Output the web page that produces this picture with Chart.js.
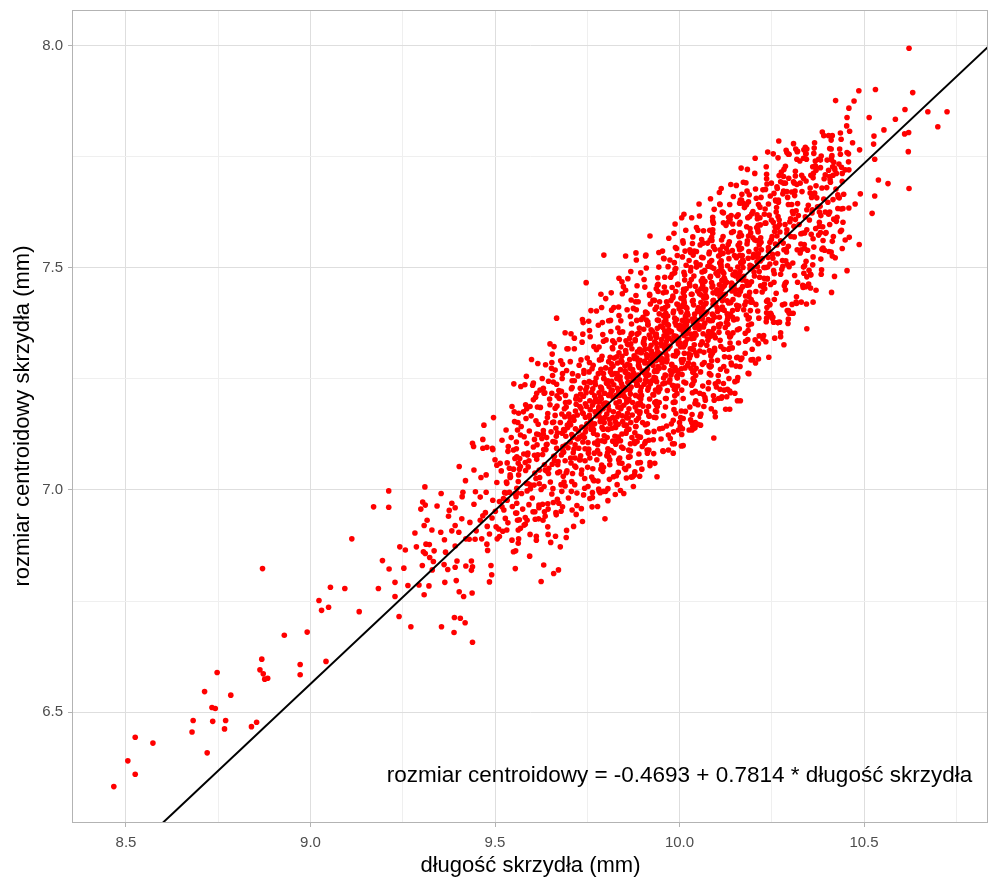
<!DOCTYPE html>
<html>
<head>
<meta charset="utf-8">
<script src="https://cdn.jsdelivr.net/npm/chart.js@4.4.0/dist/chart.umd.min.js"></script>
<style>html,body{margin:0;padding:0;background:#fff}canvas{display:block}</style>
</head>
<body>
<canvas id="c" width="1000" height="888" style="width:1000px;height:888px"></canvas>
<script>
// ---- data (wing length [mm], centroid size [mm]) ----
const leftTail = [[8.467,6.332],[8.505,6.390],[8.525,6.360],[8.525,6.443],[8.573,6.430],[8.679,6.455],[8.682,6.481],[8.720,6.408],[8.713,6.546],[8.733,6.510],[8.742,6.508],[8.735,6.479],[8.747,6.589],[8.770,6.481],[8.767,6.462],[8.784,6.538],[8.840,6.467],[8.854,6.477],[8.870,6.823],[8.868,6.619],[8.863,6.595],[8.872,6.586],[8.876,6.574],[8.884,6.576],[8.929,6.673],[8.972,6.607],[8.972,6.584],[8.991,6.680],[9.042,6.614],[9.023,6.751],[9.030,6.729],[9.049,6.736],[9.054,6.781],[9.093,6.778],[9.112,6.890]];

const lowerShoulder = [[9.132,6.726],[9.171,6.962],[9.212,6.998],[9.212,6.961],[9.184,6.778],[9.195,6.841],[9.213,6.822],[9.229,6.792],[9.229,6.760],[9.240,6.715],[9.242,6.872],[9.257,6.865],[9.253,6.824],[9.264,6.785],[9.272,6.692],[9.283,6.903],[9.287,6.872],[9.294,6.786],[9.303,6.830],[9.308,6.764],[9.321,6.784],[9.310,7.007],[9.304,6.973],[9.299,6.957],[9.311,6.966],[9.316,6.932],[9.308,6.920],[9.313,6.878],[9.322,6.877],[9.306,6.861],[9.311,6.857],[9.323,6.848],[9.335,6.863],[9.329,6.910],[9.333,6.839],[9.330,6.820],[9.343,6.964],[9.354,6.992],[9.353,6.905],[9.363,6.888],[9.366,6.860],[9.362,6.832],[9.372,6.821],[9.364,6.792],[9.355,6.692],[9.374,6.941],[9.376,6.954],[9.383,6.970],[9.392,6.960],[9.383,6.908],[9.392,6.920],[9.392,6.874],[9.397,6.840],[9.392,6.826],[9.395,6.796],[9.390,6.713],[9.389,6.679],[9.403,6.771],[9.406,6.711],[9.415,6.760],[9.419,6.701],[9.403,7.053],[9.420,7.021],[9.410,6.935],[9.413,6.995],[9.411,6.985],[9.402,6.905],[9.421,6.890],[9.421,6.829],[9.432,6.927],[9.430,6.889],[9.436,6.840],[9.439,6.827],[9.436,6.819],[9.438,6.768],[9.439,6.657],[9.443,7.045],[9.447,6.996],[9.443,6.968],[9.449,6.908],[9.446,6.889],[9.460,6.932],[9.460,6.984],[9.464,6.890],[9.467,6.942],[9.476,6.995],[9.476,7.034],[9.462,7.028],[9.474,6.949],[9.479,6.918],[9.485,6.901],[9.478,6.878],[9.480,6.864],[9.489,6.830],[9.491,6.809],[9.485,6.793],[9.494,6.977],[9.501,6.952],[9.492,6.937],[9.505,7.017],[9.512,6.974],[9.503,6.917],[9.506,6.890],
[9.442,7.098],[9.439,7.105],[9.467,7.094],[9.478,7.096],[9.494,7.091],[9.500,7.068],[9.505,7.056],[9.514,7.060],[9.539,7.049],[9.541,7.034],[9.536,7.098],[9.550,7.090],[9.559,7.075],[9.563,7.060],[9.532,7.015],[9.542,7.030],[9.557,6.985],[9.559,6.970],[9.554,6.992],[9.563,7.019],[9.559,6.948],[9.561,6.932],[9.563,6.910],[9.563,6.880],[9.550,6.861],[9.519,6.962],[9.524,6.955],[9.530,6.993],[9.533,6.977],[9.535,6.926],[9.532,6.910],[9.512,6.895],[9.510,6.912]];

const upperLeftEdge = [[9.920,7.572],[9.795,7.529],[9.854,7.527],[9.882,7.534],[9.909,7.529],[9.747,7.467],[9.836,7.477],[9.868,7.492],[9.848,7.458],[9.787,7.441],[9.800,7.431],[9.667,7.387],[9.737,7.384],[9.775,7.403],[9.808,7.381],[9.822,7.411],[9.690,7.354],[9.756,7.359],[9.780,7.371],[9.715,7.342],[9.649,7.329],[9.599,7.294],[9.655,7.306],[9.698,7.318],[9.663,7.270],[9.585,7.256],[9.551,7.239],[9.546,7.188],[9.496,7.163],[9.470,7.146],[9.467,7.114],[9.493,7.094],
[9.553,7.154],[9.561,7.135],[9.577,7.176],[9.584,7.161],[9.595,7.188],[9.604,7.203],[9.613,7.218],[9.622,7.225],[9.631,7.229],[9.654,7.218],[9.676,7.221],
[9.957,7.522],[9.974,7.518],[9.992,7.544],[10.010,7.556],[10.028,7.541],[10.046,7.537],[10.064,7.556],[10.083,7.563],[10.092,7.548],[10.110,7.541],[10.012,7.621],[9.988,7.599],[10.050,7.585],[10.090,7.606],[10.090,7.586],[10.133,7.604],[10.108,7.670],[10.110,7.643],[10.116,7.626]];

const upperRightEdge = [[10.622,7.995],[10.531,7.902],[10.486,7.899],[10.632,7.895],[10.423,7.877],[10.473,7.876],[10.459,7.860],[10.611,7.857],[10.673,7.852],[10.725,7.852],[10.454,7.839],[10.514,7.839],[10.585,7.835],[10.453,7.820],[10.700,7.818],[10.554,7.811],[10.527,7.797],[10.610,7.802],[10.621,7.805],[10.411,7.788],[10.438,7.790],[10.469,7.782],[10.526,7.779],[10.407,7.769],[10.365,7.770],[10.345,7.768],[10.343,7.757],[10.320,7.763],[10.297,7.756],[10.488,7.766],[10.620,7.762],[10.436,7.756],[10.458,7.757],[10.529,7.745],[10.384,7.752],[10.377,7.745],[10.400,7.743],[10.412,7.750],[10.368,7.730],[10.370,7.720],[10.382,7.726],[10.415,7.728],[10.421,7.721],[10.425,7.713],[10.439,7.727],[10.441,7.713],[10.459,7.721],[10.392,7.701],[10.407,7.706],[10.539,7.698],[10.565,7.690],[10.622,7.679],[10.490,7.667],[10.529,7.662],[10.476,7.644],[10.459,7.635],[10.443,7.634],[10.522,7.623],[10.430,7.660],[10.407,7.626],[10.404,7.621],[10.418,7.610],[10.425,7.605],[10.379,7.626],[10.366,7.667],[10.396,7.578],[10.382,7.580],[10.369,7.589],[10.460,7.569],[10.449,7.563],[10.487,7.553],[10.417,7.571],[10.414,7.560],[10.389,7.562],[10.362,7.566],[10.405,7.537],[10.414,7.527],[10.422,7.523],[10.383,7.520],[10.362,7.525],[10.454,7.494],[10.355,7.486],[10.345,7.480],
[10.173,7.693],[10.183,7.673],[10.236,7.701],[10.267,7.748],[10.295,7.756],[10.319,7.762],[10.342,7.757],[10.344,7.745],[10.155,7.616],[10.163,7.646],[10.172,7.646],[10.181,7.642],[10.168,7.653],[10.208,7.657],[10.199,7.627],[10.190,7.616],[10.249,7.691],[10.256,7.668],[10.260,7.653],[10.274,7.694],[10.282,7.706],[10.287,7.691],[10.291,7.672],[10.309,7.694],[10.327,7.691],[10.336,7.702]];

const lowerRightEdge = [[9.625,6.794],[9.632,6.831],[9.659,6.812],[9.672,6.820],[9.677,6.872],[9.651,6.882],[9.693,6.893],[9.612,6.896],[9.643,6.917],[9.798,6.935],[9.582,6.923],[9.587,6.932],[9.569,6.914],[9.564,6.890],[9.636,6.941],[9.634,6.951],[9.665,6.949],[9.608,6.951],[9.582,6.938],[9.619,6.960],[9.709,6.955],[9.722,6.965],[9.683,6.962],[9.673,6.970],[9.764,6.994],[9.781,7.002],[9.794,6.997],[9.752,7.008],[9.826,6.990],[9.849,6.992],[9.875,7.008],[9.873,7.030],[9.879,7.041],[9.854,7.046],[9.939,7.030],[10.093,7.117],[9.970,7.090],[9.983,7.083],[10.010,7.100],[9.917,7.090],[9.906,7.105],[9.885,7.109],[9.862,7.090],[9.835,7.068],[9.844,7.060],[9.808,7.075],[9.789,7.056],[10.034,7.135],[10.050,7.148],[10.057,7.146],[10.043,7.152],[9.975,7.116],[9.997,7.135],[10.002,7.143],[10.030,7.158],[10.097,7.165],[10.128,7.210],[10.136,7.182],[10.165,7.201],[10.097,7.239],[10.130,7.227],[10.119,7.240],
[10.295,7.385],[10.301,7.398],[10.292,7.404],[10.271,7.378],[10.253,7.389],[10.247,7.398],[10.236,7.387],[10.226,7.340],[10.214,7.330],[10.197,7.317],[10.199,7.294],[10.169,7.297],[10.157,7.299],[10.164,7.278],[10.150,7.244],[10.150,7.218],[10.157,7.201],[10.125,7.182],[10.121,7.225],[10.115,7.210],[10.092,7.212],[10.069,7.208],[10.066,7.188],[10.042,7.195],[10.039,7.139],[10.026,7.135],[10.033,7.152],[10.010,7.161],[10.005,7.099],[10.141,7.282],[10.120,7.278],[10.122,7.300],
[10.412,7.445],[10.362,7.423],[10.345,7.363],[10.330,7.423],[10.283,7.327],[10.274,7.354],[10.274,7.345],[10.295,7.404],[10.297,7.398],[10.317,7.420],[10.317,7.435],[10.342,7.458],[10.350,7.464],[10.356,7.484],[10.351,7.495],[10.267,7.377],[10.245,7.417],[10.249,7.394],[10.251,7.387]];

const coreLow = [[9.517,7.043],[9.523,6.981],[9.531,7.018],[9.528,6.936],[9.535,7.087],[9.519,7.112],[9.526,6.994],[9.533,7.061],[9.521,6.907],[9.530,7.135],
[9.541,7.028],[9.547,6.963],[9.554,7.071],[9.559,7.004],[9.544,7.118],[9.556,6.948],[9.550,7.047],[9.562,7.152],[9.539,6.995],[9.546,6.887],[9.558,7.093],[9.552,7.176],
[9.566,7.047],[9.572,6.992],[9.578,7.081],[9.585,7.015],[9.569,7.124],[9.575,6.957],[9.582,7.062],[9.571,7.143],[9.587,6.998],[9.567,7.071],[9.579,6.921],[9.583,7.192],[9.564,7.034],[9.586,7.105],
[9.592,7.066],[9.597,7.011],[9.604,7.097],[9.608,7.038],[9.593,7.133],[9.601,6.982],[9.607,7.114],[9.598,7.167],[9.611,7.026],[9.589,7.083],[9.603,6.951],[9.610,7.209],[9.590,7.052],[9.613,7.126],[9.596,7.003],[9.602,7.236],
[9.616,7.079],[9.621,7.028],[9.627,7.116],[9.634,7.057],[9.617,7.148],[9.625,7.001],[9.631,7.134],[9.623,7.186],[9.636,7.045],[9.614,7.102],[9.629,6.968],[9.633,7.218],[9.613,7.069],[9.638,7.152],[9.620,7.014],[9.628,7.251],[9.632,7.091],[9.618,6.935],
[9.641,7.103],[9.646,7.049],[9.652,7.131],[9.659,7.076],[9.643,7.172],[9.650,7.018],[9.656,7.152],[9.648,7.205],[9.661,7.066],[9.640,7.118],[9.654,6.991],[9.658,7.243],[9.638,7.091],[9.663,7.168],[9.645,7.037],[9.653,7.274],[9.657,7.109],[9.644,6.957],[9.649,7.192],[9.655,7.058],
[9.666,7.121],[9.671,7.064],[9.677,7.152],[9.684,7.098],[9.668,7.189],[9.675,7.041],[9.681,7.171],[9.673,7.224],[9.686,7.085],[9.665,7.139],[9.679,7.012],[9.683,7.262],[9.663,7.108],[9.688,7.183],[9.670,7.057],[9.678,7.291],[9.682,7.128],[9.669,6.979],[9.674,7.206],[9.680,7.079],[9.685,7.031],[9.667,7.238],
[9.689,7.134],[9.693,7.187],[9.698,7.095],[9.702,7.152],[9.706,7.061],[9.711,7.119],[9.691,7.213],[9.695,7.043],[9.700,7.171],[9.704,7.108],[9.709,7.246],[9.712,7.084],[9.690,7.009],[9.697,7.141],[9.701,7.198],[9.705,7.072],[9.708,7.125],[9.694,7.269],[9.699,6.982],[9.703,7.163],[9.710,7.037],[9.692,7.101],[9.707,7.228],[9.696,7.146],
[9.714,7.157],[9.717,7.102],[9.721,7.211],[9.726,7.133],[9.729,7.068],[9.733,7.184],[9.736,7.121],[9.715,7.246],[9.719,7.051],[9.723,7.169],[9.727,7.094],[9.731,7.229],[9.735,7.142],[9.716,7.012],[9.720,7.193],[9.724,7.115],[9.728,7.281],[9.732,7.077],[9.737,7.174],[9.718,7.138],[9.722,6.993],[9.730,7.203],[9.734,7.036],[9.713,7.165],[9.725,7.257],[9.738,7.108],
[9.739,7.172],[9.742,7.118],[9.746,7.226],[9.749,7.149],[9.753,7.083],[9.757,7.201],[9.760,7.137],[9.741,7.263],[9.744,7.066],[9.748,7.188],[9.752,7.107],[9.755,7.244],[9.759,7.158],[9.762,7.029],[9.740,7.211],[9.745,7.131],[9.750,7.297],[9.754,7.092],[9.758,7.181],[9.761,7.143],[9.743,7.004],[9.747,7.219],[9.751,7.051],[9.756,7.168],[9.763,7.273],[9.738,7.124],[9.749,7.232],[9.757,6.981],[9.745,7.194],
[9.764,7.191],[9.767,7.136],[9.771,7.243],[9.774,7.167],[9.778,7.102],[9.782,7.219],[9.785,7.154],[9.766,7.281],[9.769,7.083],[9.773,7.205],[9.777,7.124],[9.780,7.262],[9.784,7.177],[9.787,7.047],[9.765,7.228],[9.770,7.149],[9.775,7.316],[9.779,7.111],[9.783,7.199],[9.786,7.162],[9.768,7.021],[9.772,7.237],[9.776,7.068],[9.781,7.186],[9.788,7.294],[9.763,7.141],[9.774,7.252],[9.782,6.998],[9.770,7.212],[9.778,7.089],[9.786,7.232],
[9.789,7.227],[9.791,7.158],[9.794,7.262],[9.797,7.109],[9.799,7.196],[9.802,7.241],[9.805,7.137],[9.808,7.214],[9.811,7.068],[9.790,7.301],[9.793,7.183],[9.796,7.122],[9.800,7.275],[9.803,7.171],[9.806,7.093],[9.809,7.233],[9.812,7.149],[9.788,7.205],[9.792,7.042],[9.795,7.251],[9.798,7.164],[9.801,7.338],[9.804,7.118],[9.807,7.189],[9.810,7.024],[9.813,7.266],[9.790,7.141],[9.797,7.218],[9.803,7.077],[9.808,7.289],[9.794,7.193],[9.800,6.997],[9.806,7.246],
[9.814,7.218],[9.816,7.284],[9.819,7.163],[9.822,7.237],[9.825,7.121],[9.828,7.196],[9.831,7.262],[9.834,7.148],[9.836,7.309],[9.815,7.089],[9.818,7.224],[9.821,7.176],[9.824,7.331],[9.827,7.103],[9.830,7.251],[9.833,7.187],[9.837,7.061],[9.813,7.272],[9.817,7.139],[9.820,7.208],[9.823,7.297],[9.826,7.154],[9.829,7.032],[9.832,7.229],[9.835,7.172],[9.838,7.355],[9.816,7.245],[9.822,7.084],[9.828,7.213],[9.834,7.119],[9.819,7.318],[9.825,7.262],[9.831,7.012],[9.837,7.199],[9.827,7.141],
[9.839,7.247],[9.841,7.183],[9.844,7.301],[9.847,7.219],[9.850,7.146],[9.853,7.268],[9.856,7.205],[9.859,7.328],[9.861,7.162],[9.840,7.111],[9.843,7.239],[9.846,7.356],[9.849,7.191],[9.852,7.279],[9.855,7.128],[9.858,7.254],[9.862,7.074],[9.838,7.213],[9.842,7.292],[9.845,7.167],[9.848,7.232],[9.851,7.049],[9.854,7.314],[9.857,7.198],[9.860,7.261],[9.863,7.137],[9.841,7.381],[9.847,7.094],[9.853,7.226],[9.859,7.173],[9.844,7.288],[9.850,7.211],[9.856,7.027],[9.862,7.243],[9.846,7.154],[9.855,7.336]];

const coreMid = [[9.888,7.291],[9.885,7.178],[9.883,7.244],[9.880,7.336],[9.878,7.109],[9.876,7.263],[9.873,7.197],[9.871,7.318],[9.868,7.152],[9.866,7.274],[9.864,7.226],[9.887,7.061],[9.884,7.382],[9.881,7.213],[9.879,7.129],[9.877,7.302],[9.874,7.248],[9.872,7.169],[9.869,7.351],[9.867,7.088],[9.865,7.281],[9.863,7.204],[9.886,7.237],[9.882,7.143],[9.875,7.409],[9.870,7.259],[9.889,7.192],[9.862,7.327],[9.878,7.034],[9.873,7.271],[9.867,7.216],[9.884,7.298],[9.871,7.118],[9.880,7.187],[9.865,7.342],[9.876,7.256],[9.869,7.232],[9.883,7.157],
[9.891,7.276],[9.905,7.341],[9.897,7.213],[9.912,7.298],[9.889,7.162],[9.901,7.389],[9.908,7.247],[9.894,7.119],[9.910,7.305],[9.899,7.268],[9.887,7.194],[9.903,7.362],[9.896,7.231],[9.913,7.083],[9.892,7.317],[9.906,7.286],[9.900,7.152],[9.888,7.424],[9.909,7.259],[9.895,7.205],[9.902,7.331],[9.911,7.177],[9.893,7.292],[9.898,7.047],[9.907,7.268],[9.890,7.354],[9.904,7.238],[9.912,7.131],[9.896,7.309],[9.901,7.189],[9.889,7.282],[9.908,7.401],[9.894,7.222],[9.910,7.256],[9.899,7.098],[9.905,7.327],[9.892,7.172],[9.903,7.264],[9.897,7.311],
[9.918,7.318],[9.931,7.254],[9.914,7.379],[9.926,7.296],[9.937,7.192],[9.921,7.342],[9.916,7.231],[9.934,7.407],[9.928,7.281],[9.913,7.149],[9.923,7.326],[9.936,7.268],[9.919,7.441],[9.930,7.214],[9.915,7.303],[9.927,7.357],[9.938,7.177],[9.922,7.289],[9.917,7.112],[9.933,7.334],[9.925,7.246],[9.912,7.398],[9.929,7.301],[9.935,7.225],[9.920,7.062],[9.914,7.372],[9.932,7.267],[9.924,7.313],[9.937,7.199],[9.916,7.285],[9.928,7.427],[9.921,7.239],[9.934,7.349],[9.918,7.166],[9.926,7.307],[9.913,7.273],[9.931,7.132],[9.923,7.361],[9.936,7.291],
[9.942,7.301],[9.955,7.366],[9.938,7.244],[9.950,7.329],[9.961,7.411],[9.945,7.274],[9.940,7.188],[9.958,7.347],[9.952,7.296],[9.937,7.453],[9.947,7.228],[9.960,7.318],[9.943,7.382],[9.954,7.139],[9.939,7.267],[9.951,7.339],[9.962,7.206],[9.946,7.424],[9.941,7.311],[9.957,7.252],[9.949,7.369],[9.936,7.163],[9.953,7.286],[9.959,7.394],[9.944,7.232],[9.938,7.344],[9.956,7.087],[9.948,7.307],[9.961,7.259],[9.940,7.461],[9.952,7.325],[9.945,7.197],[9.958,7.378],[9.942,7.278],[9.950,7.115],[9.937,7.351],[9.955,7.239],[9.947,7.294],[9.960,7.408],[9.943,7.221],
[9.966,7.352],[9.979,7.281],[9.963,7.398],[9.974,7.324],[9.986,7.227],[9.970,7.371],[9.964,7.446],[9.983,7.303],[9.977,7.259],[9.962,7.388],[9.972,7.342],[9.985,7.181],[9.968,7.415],[9.980,7.266],[9.964,7.334],[9.976,7.479],[9.987,7.212],[9.971,7.361],[9.966,7.294],[9.982,7.437],[9.974,7.248],[9.961,7.327],[9.978,7.149],[9.984,7.403],[9.969,7.318],[9.963,7.382],[9.981,7.236],[9.973,7.356],[9.986,7.104],[9.965,7.289],[9.977,7.427],[9.970,7.341],[9.983,7.197],[9.967,7.373],[9.975,7.269],[9.962,7.309],[9.980,7.456],[9.972,7.243],[9.985,7.347],[9.968,7.392],
[9.991,7.338],[10.004,7.401],[9.988,7.276],[9.999,7.364],[10.011,7.452],[9.995,7.309],[9.989,7.227],[10.008,7.382],[10.002,7.331],[9.987,7.489],[9.997,7.263],[10.010,7.354],[9.993,7.419],[10.005,7.178],[9.989,7.302],[10.001,7.371],[10.012,7.243],[9.996,7.463],[9.991,7.346],[10.007,7.287],[9.999,7.408],[9.986,7.198],[10.003,7.322],[10.009,7.431],[9.994,7.269],[9.988,7.377],[10.006,7.125],[9.998,7.341],[10.011,7.294],[9.990,7.499],[10.002,7.362],[9.995,7.234],[10.008,7.413],[9.992,7.313],[10.000,7.152],[9.987,7.387],[10.005,7.273],[9.997,7.329],[10.010,7.444],[9.993,7.256],
[10.016,7.391],[10.029,7.318],[10.013,7.436],[10.024,7.362],[10.036,7.265],[10.020,7.409],[10.014,7.484],[10.033,7.341],[10.027,7.297],[10.012,7.426],[10.022,7.381],[10.035,7.219],[10.018,7.453],[10.030,7.304],[10.014,7.372],[10.026,7.517],[10.037,7.251],[10.021,7.399],[10.016,7.332],[10.032,7.474],[10.024,7.286],[10.011,7.365],[10.028,7.187],[10.034,7.441],[10.019,7.356],[10.013,7.421],[10.031,7.274],[10.023,7.394],[10.036,7.143],[10.015,7.327],[10.027,7.465],[10.020,7.379],[10.033,7.236],[10.017,7.412],[10.025,7.307],[10.012,7.348],[10.030,7.493],[10.022,7.281],[10.035,7.385],
[10.041,7.378],[10.054,7.442],[10.038,7.316],[10.049,7.404],[10.061,7.491],[10.045,7.349],[10.039,7.268],[10.058,7.422],[10.052,7.371],[10.037,7.529],[10.047,7.303],[10.060,7.394],[10.043,7.459],[10.055,7.218],[10.039,7.342],[10.051,7.411],[10.062,7.283],[10.046,7.502],[10.041,7.386],[10.057,7.327],[10.049,7.448],[10.036,7.239],[10.053,7.362],[10.059,7.471],[10.044,7.309],[10.038,7.417],[10.056,7.166],[10.048,7.381],[10.061,7.334],[10.040,7.538],[10.052,7.402],[10.045,7.274],[10.058,7.453],[10.042,7.353],[10.050,7.192],[10.037,7.427],[10.055,7.313],[10.047,7.369],
[10.066,7.432],[10.079,7.357],[10.063,7.476],[10.074,7.401],[10.086,7.305],[10.070,7.448],[10.064,7.523],[10.083,7.381],[10.077,7.337],[10.062,7.466],[10.072,7.421],[10.085,7.259],[10.068,7.493],[10.080,7.344],[10.064,7.412],[10.076,7.556],[10.087,7.291],[10.071,7.438],[10.066,7.372],[10.082,7.513],[10.074,7.326],[10.061,7.405],[10.078,7.228],[10.084,7.481],[10.069,7.396],[10.063,7.461],[10.081,7.314],[10.073,7.434],[10.086,7.183],[10.065,7.367],[10.077,7.504],[10.070,7.419],[10.083,7.277],[10.067,7.452],[10.075,7.347],[10.062,7.388],[10.080,7.532],
[10.091,7.418],[10.104,7.483],[10.088,7.356],[10.099,7.444],[10.111,7.531],[10.095,7.389],[10.089,7.308],[10.108,7.462],[10.102,7.411],[10.087,7.569],[10.097,7.343],[10.110,7.434],[10.093,7.499],[10.105,7.258],[10.089,7.382],[10.101,7.451],[10.112,7.323],[10.096,7.542],[10.091,7.426],[10.107,7.367],[10.099,7.488],[10.086,7.279],[10.103,7.402],[10.109,7.511],[10.094,7.349],[10.088,7.457],[10.106,7.206],[10.098,7.421],[10.111,7.374],[10.090,7.578],[10.102,7.442],[10.095,7.314],[10.108,7.493],[10.092,7.393],[10.100,7.232],[10.087,7.467]];

const coreHigh = [[10.116,7.472],[10.129,7.397],[10.113,7.516],[10.124,7.441],[10.136,7.345],[10.120,7.488],[10.114,7.563],[10.133,7.421],[10.127,7.377],[10.112,7.506],[10.122,7.461],[10.135,7.299],[10.118,7.533],[10.130,7.384],[10.114,7.452],[10.126,7.596],[10.137,7.331],[10.121,7.478],[10.116,7.412],[10.132,7.553],[10.124,7.366],[10.111,7.445],[10.128,7.268],[10.134,7.521],[10.119,7.436],[10.113,7.501],[10.131,7.354],[10.123,7.474],[10.136,7.223],[10.115,7.407],[10.127,7.544],[10.120,7.459],[10.133,7.317],[10.117,7.492],
[10.141,7.458],[10.154,7.523],[10.138,7.396],[10.149,7.484],[10.161,7.571],[10.145,7.429],[10.139,7.348],[10.158,7.502],[10.152,7.451],[10.137,7.609],[10.147,7.383],[10.160,7.474],[10.143,7.539],[10.155,7.298],[10.139,7.422],[10.151,7.491],[10.162,7.363],[10.146,7.582],[10.141,7.466],[10.157,7.407],[10.149,7.528],[10.136,7.319],[10.153,7.442],[10.159,7.551],[10.144,7.389],[10.138,7.497],[10.156,7.246],[10.148,7.461],[10.161,7.414],[10.140,7.618],[10.152,7.482],[10.145,7.354],
[10.166,7.512],[10.179,7.437],[10.163,7.556],[10.174,7.481],[10.186,7.385],[10.170,7.528],[10.164,7.603],[10.183,7.461],[10.177,7.417],[10.162,7.546],[10.172,7.501],[10.185,7.339],[10.168,7.573],[10.180,7.424],[10.164,7.492],[10.176,7.636],[10.187,7.371],[10.171,7.518],[10.166,7.452],[10.182,7.593],[10.174,7.406],[10.161,7.485],[10.178,7.308],[10.184,7.561],[10.169,7.476],[10.163,7.541],[10.181,7.394],[10.173,7.514],[10.186,7.263],[10.165,7.447],
[10.191,7.498],[10.204,7.563],[10.188,7.436],[10.199,7.524],[10.211,7.611],[10.195,7.469],[10.189,7.388],[10.208,7.542],[10.202,7.491],[10.187,7.649],[10.197,7.423],[10.210,7.514],[10.193,7.579],[10.205,7.338],[10.189,7.462],[10.201,7.531],[10.212,7.403],[10.196,7.622],[10.191,7.506],[10.207,7.447],[10.199,7.568],[10.186,7.359],[10.203,7.482],[10.209,7.591],[10.194,7.429],[10.188,7.537],[10.206,7.286],[10.198,7.501],
[10.216,7.552],[10.229,7.477],[10.213,7.596],[10.224,7.521],[10.236,7.425],[10.220,7.568],[10.214,7.643],[10.233,7.501],[10.227,7.457],[10.212,7.586],[10.222,7.541],[10.235,7.379],[10.218,7.613],[10.230,7.464],[10.214,7.532],[10.226,7.676],[10.237,7.411],[10.221,7.558],[10.216,7.492],[10.232,7.633],[10.224,7.446],[10.211,7.525],[10.228,7.348],[10.234,7.601],[10.219,7.516],[10.213,7.581],
[10.241,7.538],[10.254,7.603],[10.238,7.476],[10.249,7.564],[10.261,7.651],[10.245,7.509],[10.239,7.428],[10.258,7.582],[10.252,7.531],[10.237,7.689],[10.247,7.463],[10.260,7.554],[10.243,7.619],[10.255,7.378],[10.239,7.502],[10.251,7.571],[10.262,7.443],[10.246,7.662],[10.241,7.546],[10.257,7.487],[10.249,7.608],[10.236,7.399],[10.253,7.522],
[10.266,7.592],[10.279,7.517],[10.263,7.636],[10.274,7.561],[10.286,7.465],[10.270,7.608],[10.264,7.683],[10.283,7.541],[10.277,7.497],[10.262,7.626],[10.272,7.581],[10.285,7.419],[10.268,7.653],[10.280,7.504],[10.264,7.572],[10.276,7.716],[10.287,7.451],[10.271,7.598],[10.266,7.532],[10.282,7.673],[10.274,7.486],
[10.291,7.578],[10.304,7.643],[10.288,7.516],[10.299,7.604],[10.311,7.691],[10.295,7.549],[10.289,7.468],[10.308,7.622],[10.302,7.571],[10.287,7.729],[10.297,7.503],[10.310,7.594],[10.293,7.659],[10.305,7.418],[10.289,7.542],[10.301,7.611],[10.312,7.483],[10.296,7.702],[10.291,7.586],
[10.316,7.629],[10.329,7.554],[10.313,7.673],[10.324,7.598],[10.336,7.502],[10.320,7.645],[10.314,7.718],[10.333,7.578],[10.327,7.534],[10.312,7.663],[10.322,7.618],[10.335,7.456],[10.318,7.688],[10.330,7.541],[10.314,7.609],[10.326,7.741],[10.337,7.488],
[10.341,7.615],[10.354,7.680],[10.338,7.553],[10.349,7.641],[10.361,7.728],[10.345,7.586],[10.339,7.505],[10.358,7.659],[10.352,7.608],[10.337,7.766],[10.347,7.540],[10.360,7.631],[10.343,7.696],[10.355,7.455],[10.339,7.579],
[10.366,7.669],[10.379,7.594],[10.363,7.713],[10.374,7.638],[10.386,7.542],[10.370,7.685],[10.364,7.758],[10.383,7.618],[10.377,7.574],[10.362,7.703],[10.372,7.658],[10.385,7.496],[10.368,7.728],
[10.391,7.655],[10.404,7.720],[10.388,7.593],[10.399,7.681],[10.411,7.768],[10.395,7.626],[10.389,7.545],[10.408,7.699],[10.402,7.648],[10.387,7.806],[10.397,7.580],
[10.416,7.709],[10.429,7.634],[10.413,7.753],[10.424,7.678],[10.436,7.582],[10.420,7.725],[10.414,7.798],[10.433,7.658],[10.427,7.614],[10.412,7.743],
[10.441,7.695],[10.454,7.760],[10.438,7.633],[10.449,7.721],[10.461,7.808],[10.445,7.666],[10.439,7.585],[10.458,7.739]];

const coreFillA = [[9.556,6.863],[9.566,6.933],[9.560,6.993],[9.569,7.053],[9.558,7.108],[9.564,7.173],[9.570,7.233],[9.555,6.823],
[9.583,7.044],[9.592,6.967],[9.579,7.120],[9.595,6.900],[9.586,7.183],[9.590,7.014],[9.581,7.237],[9.594,6.851],[9.588,7.079],
[9.606,7.011],[9.618,7.125],[9.609,6.934],[9.615,7.187],[9.620,7.045],[9.604,7.241],[9.612,6.887],[9.607,7.078],[9.619,6.966],[9.611,7.156],[9.616,7.285],
[9.631,7.126],[9.643,6.969],[9.635,7.219],[9.640,7.043],[9.629,7.080],[9.644,6.900],[9.637,7.282],[9.633,7.008],[9.642,7.163],[9.630,6.932],[9.639,7.102],[9.645,7.245],
[9.657,7.003],[9.668,7.212],[9.661,7.076],[9.654,7.287],[9.666,6.944],[9.659,7.153],[9.670,7.039],[9.656,7.258],[9.664,6.896],[9.669,7.129],[9.658,6.972],[9.663,7.184],[9.667,7.094],[9.660,7.323],
[9.682,7.251],[9.693,7.039],[9.686,7.136],[9.679,6.952],[9.691,7.197],[9.684,7.088],[9.695,7.318],[9.681,6.997],[9.689,7.165],[9.694,6.909],[9.683,7.283],[9.690,7.066],[9.680,7.222],[9.692,7.121],[9.687,7.018],
[9.707,6.997],[9.718,7.178],[9.711,7.121],[9.704,7.289],[9.716,7.054],[9.709,7.231],[9.720,6.945],[9.706,7.352],[9.714,7.092],[9.719,7.205],[9.708,7.019],[9.715,7.318],[9.705,7.147],[9.717,7.072],[9.710,7.262],[9.713,6.918],
[9.732,7.216],[9.743,7.026],[9.736,7.333],[9.729,7.119],[9.741,7.269],[9.734,6.958],[9.745,7.164],[9.731,7.068],[9.739,7.377],[9.744,7.093],[9.733,7.293],[9.740,6.989],[9.730,7.188],[9.742,7.242],[9.735,7.045],[9.738,7.351],[9.746,7.141],[9.737,6.929],
[9.757,7.072],[9.768,7.323],[9.761,7.150],[9.754,7.380],[9.766,7.023],[9.759,7.242],[9.770,7.106],[9.756,7.287],[9.764,6.983],[9.769,7.198],[9.758,7.345],[9.765,7.048],[9.755,7.266],[9.767,7.128],[9.760,7.404],[9.763,6.962],[9.771,7.176],[9.762,7.220],[9.753,7.090],
[9.782,7.322],[9.793,7.137],[9.786,7.210],[9.779,7.020],[9.791,7.377],[9.784,7.081],[9.795,7.251],[9.781,7.168],[9.789,7.411],[9.794,7.051],[9.783,7.293],[9.790,7.111],[9.780,7.198],[9.792,7.350],[9.785,6.994],[9.788,7.230],[9.796,7.152],[9.787,7.272],[9.778,6.963],[9.794,7.335],[9.781,7.181],
[9.807,7.136],[9.818,7.321],[9.811,7.057],[9.804,7.240],[9.816,7.405],[9.809,7.180],[9.820,7.279],[9.806,7.003],[9.814,7.357],[9.819,7.110],[9.808,7.213],[9.815,7.444],[9.805,7.084],[9.817,7.260],[9.810,7.159],[9.813,7.382],[9.821,7.030],[9.812,7.299],[9.803,7.195],[9.819,7.336],[9.806,6.976],[9.815,7.225],
[9.832,7.286],[9.843,7.097],[9.836,7.393],[9.829,7.211],[9.841,7.322],[9.834,7.040],[9.845,7.442],[9.831,7.165],[9.839,7.255],[9.844,7.126],[9.833,7.365],[9.840,6.999],[9.830,7.300],[9.842,7.187],[9.835,7.412],[9.838,7.072],[9.846,7.231],[9.837,7.339],[9.828,7.146],[9.844,7.469],[9.831,7.110],[9.840,7.271],[9.835,7.221],
[9.857,7.134],[9.868,7.329],[9.861,7.201],[9.854,7.450],[9.866,7.075],[9.859,7.283],[9.870,7.374],[9.856,7.163],[9.864,7.256],[9.869,7.029],[9.858,7.406],[9.865,7.225],[9.855,7.308],[9.867,7.104],[9.860,7.476],[9.863,7.183],[9.871,7.353],[9.862,7.054],[9.853,7.265],[9.869,7.428],[9.856,7.146],[9.865,7.294],[9.860,7.242],[9.867,7.391],
[9.882,7.438],[9.893,7.176],[9.886,7.311],[9.879,7.105],[9.891,7.365],[9.884,7.236],[9.895,7.489],[9.881,7.143],[9.889,7.280],[9.894,7.062],[9.883,7.406],[9.890,7.210],[9.880,7.339],[9.892,7.031],[9.885,7.460],[9.888,7.259],[9.896,7.384],[9.887,7.121],[9.878,7.296],[9.894,7.195],[9.881,7.424],[9.890,7.081],[9.885,7.351],[9.892,7.248],[9.883,7.518],
[9.907,7.147],[9.918,7.349],[9.911,7.268],[9.904,7.474],[9.916,7.188],[9.909,7.397],[9.920,7.055],[9.906,7.317],[9.914,7.225],[9.919,7.438],[9.908,7.109],[9.915,7.372],[9.905,7.290],[9.917,7.168],[9.910,7.500],[9.913,7.244],[9.921,7.419],[9.912,7.090],[9.903,7.335],[9.919,7.205],[9.906,7.457],[9.915,7.130],[9.910,7.383],[9.917,7.259],[9.908,7.527]];

const coreFillB = [[9.932,7.427],[9.943,7.229],[9.936,7.345],[9.929,7.113],[9.941,7.478],[9.934,7.270],[9.945,7.397],[9.931,7.164],[9.939,7.320],[9.944,7.535],[9.933,7.197],[9.940,7.364],[9.930,7.082],[9.942,7.447],[9.935,7.252],[9.938,7.412],[9.946,7.138],[9.937,7.330],[9.928,7.215],[9.944,7.502],[9.931,7.293],[9.940,7.383],[9.935,7.179],[9.942,7.463],[9.933,7.060],[9.938,7.307],
[9.957,7.167],[9.968,7.372],[9.961,7.241],[9.954,7.538],[9.966,7.302],[9.959,7.457],[9.970,7.124],[9.956,7.393],[9.964,7.206],[9.969,7.503],[9.958,7.276],[9.965,7.424],[9.955,7.088],[9.967,7.341],[9.960,7.479],[9.963,7.258],[9.971,7.567],[9.962,7.187],[9.953,7.408],[9.969,7.320],[9.956,7.444],[9.965,7.144],[9.960,7.358],[9.967,7.224],[9.958,7.521],[9.963,7.293],
[9.982,7.433],[9.993,7.217],[9.986,7.512],[9.979,7.283],[9.991,7.371],[9.984,7.131],[9.995,7.463],[9.981,7.336],[9.989,7.546],[9.994,7.252],[9.983,7.399],[9.990,7.172],[9.980,7.486],[9.992,7.306],[9.985,7.578],[9.988,7.198],[9.996,7.417],[9.987,7.234],[9.978,7.357],[9.994,7.528],[9.981,7.104],[9.990,7.447],[9.985,7.269],[9.992,7.384],[9.983,7.157],[9.988,7.497],
[10.007,7.260],[10.018,7.506],[10.011,7.322],[10.004,7.432],[10.016,7.177],[10.009,7.561],[10.020,7.353],[10.006,7.225],[10.014,7.473],[10.019,7.395],[10.008,7.138],[10.015,7.538],[10.005,7.293],[10.017,7.585],[10.010,7.206],[10.013,7.448],[10.021,7.340],[10.012,7.490],[10.003,7.163],[10.019,7.372],[10.006,7.613],[10.015,7.275],[10.010,7.417],[10.017,7.241],[10.008,7.525],[10.013,7.308],
[10.032,7.441],[10.043,7.222],[10.036,7.570],[10.029,7.303],[10.041,7.396],[10.034,7.170],[10.045,7.512],[10.031,7.351],[10.039,7.482],[10.044,7.258],[10.033,7.613],[10.040,7.327],[10.030,7.535],[10.042,7.140],[10.035,7.425],[10.038,7.283],[10.046,7.591],[10.037,7.378],[10.028,7.460],[10.044,7.201],[10.031,7.501],[10.040,7.246],[10.035,7.555],[10.042,7.366],[10.033,7.318],
[10.057,7.266],[10.068,7.494],[10.061,7.385],[10.054,7.617],[10.066,7.310],[10.059,7.439],[10.070,7.202],[10.056,7.552],[10.064,7.352],[10.069,7.470],[10.058,7.171],[10.065,7.584],[10.055,7.405],[10.067,7.287],[10.060,7.524],[10.063,7.234],[10.071,7.452],[10.062,7.331],[10.053,7.644],[10.069,7.376],[10.056,7.507],[10.065,7.215],[10.060,7.564],[10.067,7.397],
[10.082,7.585],[10.093,7.364],[10.086,7.502],[10.079,7.242],[10.091,7.444],[10.084,7.656],[10.095,7.319],[10.081,7.536],[10.089,7.396],[10.094,7.202],[10.083,7.479],[10.090,7.614],[10.080,7.280],[10.092,7.427],[10.085,7.347],[10.088,7.562],[10.096,7.175],[10.087,7.517],[10.078,7.384],[10.094,7.632],[10.081,7.262],[10.090,7.460],[10.085,7.302],[10.092,7.601],
[10.107,7.355],[10.118,7.571],[10.111,7.272],[10.104,7.490],[10.116,7.426],[10.109,7.644],[10.120,7.317],[10.106,7.527],[10.114,7.207],[10.119,7.602],[10.108,7.389],[10.115,7.455],[10.105,7.244],[10.117,7.549],[10.110,7.337],[10.113,7.679],[10.121,7.405],[10.112,7.509],[10.103,7.292],[10.119,7.624],[10.106,7.372],[10.115,7.472],[10.110,7.227],
[10.132,7.536],[10.143,7.320],[10.136,7.643],[10.129,7.426],[10.141,7.580],[10.134,7.251],[10.145,7.485],[10.131,7.373],[10.139,7.688],[10.144,7.404],[10.133,7.614],[10.140,7.286],[10.130,7.505],[10.142,7.448],[10.135,7.559],[10.138,7.219],[10.146,7.661],[10.137,7.345],[10.128,7.468],[10.144,7.599],[10.131,7.391],
[10.157,7.361],[10.168,7.544],[10.161,7.440],[10.154,7.686],[10.166,7.294],[10.159,7.620],[10.170,7.473],[10.156,7.385],[10.164,7.579],[10.169,7.510],[10.158,7.253],[10.165,7.653],[10.155,7.416],[10.167,7.725],[10.160,7.331],[10.163,7.528],[10.171,7.458],[10.162,7.599],[10.153,7.279],[10.169,7.666],
[10.182,7.644],[10.193,7.423],[10.186,7.522],[10.179,7.335],[10.191,7.589],[10.184,7.722],[10.195,7.374],[10.181,7.470],[10.189,7.665],[10.194,7.293],[10.183,7.554],[10.190,7.445],[10.180,7.692],[10.192,7.404],[10.185,7.613],[10.188,7.262],[10.196,7.504],[10.187,7.572],[10.178,7.353],
[10.207,7.418],[10.218,7.637],[10.211,7.503],[10.204,7.713],[10.216,7.347],[10.209,7.562],[10.220,7.460],[10.206,7.678],[10.214,7.295],[10.219,7.597],[10.208,7.529],[10.215,7.387],[10.205,7.747],[10.217,7.479],[10.210,7.620],[10.213,7.330],[10.221,7.659],
[10.232,7.601],[10.243,7.392],[10.236,7.711],[10.229,7.501],[10.241,7.644],[10.234,7.334],[10.245,7.558],[10.231,7.453],[10.239,7.761],[10.244,7.419],[10.233,7.677],[10.240,7.524],[10.230,7.621],[10.242,7.299],[10.235,7.728],[10.238,7.476],
[10.257,7.429],[10.268,7.648],[10.261,7.511],[10.254,7.757],[10.266,7.377],[10.259,7.593],[10.270,7.708],[10.256,7.468],[10.264,7.552],[10.269,7.786],[10.258,7.342],[10.265,7.679],[10.255,7.494],[10.267,7.616],
[10.282,7.691],[10.293,7.508],[10.286,7.598],[10.279,7.417],[10.291,7.760],[10.284,7.460],[10.295,7.643],[10.281,7.556],[10.289,7.765],[10.294,7.375],[10.283,7.722],[10.290,7.536],[10.280,7.667],
[10.307,7.511],[10.318,7.745],[10.311,7.570],[10.304,7.671],[10.316,7.423],[10.309,7.780],[10.320,7.468],[10.306,7.627],[10.314,7.707],[10.319,7.541],[10.308,7.398],[10.315,7.768],
[10.332,7.672],[10.343,7.515],[10.336,7.747],[10.329,7.577],[10.341,7.772],[10.334,7.461],[10.345,7.631],[10.331,7.709],[10.339,7.544],[10.344,7.419],
[10.357,7.576],[10.368,7.741],[10.361,7.507],[10.354,7.669],[10.366,7.782],[10.359,7.624],[10.370,7.450],[10.356,7.709],[10.364,7.547],
[10.382,7.743],[10.393,7.540],[10.386,7.680],[10.379,7.603],[10.391,7.798],[10.384,7.486],[10.395,7.710],[10.381,7.639],
[10.407,7.598],[10.418,7.738],[10.411,7.536],[10.404,7.798],[10.416,7.654],[10.409,7.693],[10.420,7.481],
[10.432,7.734],[10.443,7.603],[10.436,7.804],[10.429,7.665],[10.441,7.544],[10.434,7.768]];

// regression coefficients shown on the chart
const intercept = -0.4693;
const slope = 0.7814;
const equationLabel = 'rozmiar centroidowy = -0.4693 + 0.7814 * długość skrzydła';
const labelPos = [10.0, 6.342];

// axes
const xTitle = 'długość skrzydła (mm)';
const yTitle = 'rozmiar centroidowy skrzydła (mm)';
const xRange = [8.3564, 10.836];
const yRange = [6.2523, 8.081];
const xTickValues = [8.5, 8.75, 9.0, 9.25, 9.5, 9.75, 10.0, 10.25, 10.5, 10.75];
const yTickValues = [6.5, 6.75, 7.0, 7.25, 7.5, 7.75, 8.0];

// ---- chart ----
const FONT = "'Liberation Sans', Arial, Helvetica, sans-serif";
const isMajor = v => Math.abs(v * 2 - Math.round(v * 2)) < 1e-6;
const pts = [].concat(leftTail, lowerShoulder, upperLeftEdge, upperRightEdge, lowerRightEdge, coreLow, coreMid, coreHigh, coreFillA, coreFillB)
  .map(p => ({ x: p[0], y: p[1] }));
const fitLine = xRange.map(x => ({ x: x, y: intercept + slope * x }));

const panelPlugin = {
  id: 'panel',
  afterDraw(chart) {
    const { ctx, chartArea: a, scales } = chart;
    ctx.save();
    ctx.strokeStyle = '#B3B3B3';
    ctx.lineWidth = 1;
    ctx.strokeRect(Math.round(a.left) - 0.5, Math.round(a.top) + 0.5, Math.round(a.right - a.left), Math.round(a.bottom - a.top));
    ctx.fillStyle = '#000';
    ctx.font = '22.5px ' + FONT;
    ctx.textAlign = 'center';
    ctx.textBaseline = 'alphabetic';
    ctx.fillText(equationLabel, scales.x.getPixelForValue(labelPos[0]), scales.y.getPixelForValue(labelPos[1]));
    ctx.restore();
  }
};

const gridOpts = {
  color: c => (c.tick && isMajor(c.tick.value)) ? '#DEDEDE' : '#EFEFEF',
  lineWidth: 1,
  tickLength: 5,
  tickColor: c => (c.tick && isMajor(c.tick.value)) ? '#B3B3B3' : 'rgba(0,0,0,0)',
  tickWidth: 1
};

new Chart(document.getElementById('c'), {
  type: 'scatter',
  data: {
    datasets: [
      { data: fitLine, showLine: true, borderColor: '#000', borderWidth: 2, pointRadius: 0, fill: false, order: 0, clip: 0 },
      { data: pts, backgroundColor: '#FF0000', borderWidth: 0, pointRadius: 2.8, pointHoverRadius: 2.8, order: 1, clip: 3 }
    ]
  },
  options: {
    responsive: false,
    animation: false,
    devicePixelRatio: 1,
    events: [],
    layout: { padding: { left: 0, right: 12, top: 10, bottom: 0 } },
    plugins: { legend: { display: false }, tooltip: { enabled: false } },
    scales: {
      x: {
        type: 'linear', min: xRange[0], max: xRange[1],
        afterBuildTicks: ax => { ax.ticks = xTickValues.map(v => ({ value: v })); },
        afterFit: s => { s.height = 66; s.paddingLeft = 0; s.paddingRight = 0; },
        ticks: { autoSkip: false, maxRotation: 0, color: '#4D4D4D', font: { family: FONT, size: 15 }, padding: 7,
          callback: v => isMajor(v) ? v.toFixed(1) : '' },
        grid: gridOpts,
        border: { display: false },
        title: { display: true, text: xTitle, color: '#000', font: { family: FONT, size: 22 }, padding: { top: 0, bottom: 9 } }
      },
      y: {
        type: 'linear', min: yRange[0], max: yRange[1],
        afterBuildTicks: ax => { ax.ticks = yTickValues.map(v => ({ value: v })); },
        afterFit: s => { s.width = 73; s.paddingTop = 0; s.paddingBottom = 0; },
        ticks: { autoSkip: false, color: '#4D4D4D', font: { family: FONT, size: 15 }, padding: 5,
          callback: v => isMajor(v) ? v.toFixed(1) : '' },
        grid: gridOpts,
        border: { display: false },
        title: { display: true, text: yTitle, color: '#000', font: { family: FONT, size: 22 }, padding: { top: 10, bottom: 0 } }
      }
    }
  },
  plugins: [panelPlugin]
});
</script>
</body>
</html>
